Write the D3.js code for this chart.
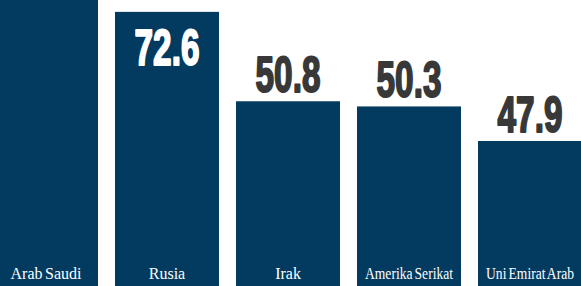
<!DOCTYPE html>
<html>
<head>
<meta charset="utf-8">
<script src="https://cdn.jsdelivr.net/npm/d3@7"></script>
<style>
  html, body { margin: 0; padding: 0; background: #ffffff; }
  svg { display: block; }
</style>
</head>
<body>
<script>
// ---- data ----
const categories = ["Arab Saudi", "Rusia", "Irak", "Amerika Serikat", "Uni Emirat Arab"];
const values = [100, 72.6, 50.8, 50.3, 47.9]; // Arab Saudi bar runs off the top of the picture
const valueLabels = ["", "72.6", "50.8", "50.3", "47.9"];

const W = 581, H = 286;
const barColor = "#033a5f";
const valueColor = "#383838";

const svg = d3.select("body").append("svg")
  .attr("width", W).attr("height", H);

const x = d3.scaleBand()
  .domain(categories)
  .range([-6, 582])
  .paddingInner(0.1405)
  .paddingOuter(0);

// infographic-style (non-linear) height scale
const offset = 45;
const yLog = d3.scaleLog().domain([1, 30]).range([202, 7.1]);
const y = v => yLog(v - offset);

const data = categories.map((c, i) => ({ c, v: values[i], label: valueLabels[i] }));

svg.selectAll("rect.bar").data(data).join("rect")
  .attr("class", "bar")
  .attr("x", d => x(d.c))
  .attr("width", x.bandwidth())
  .attr("y", d => y(d.v))
  .attr("height", d => H - y(d.v))
  .attr("fill", barColor);

// category labels inside bottom of bars (squeezed horizontally if too long)
const maxLabel = x.bandwidth() - 16;
const catG = svg.selectAll("g.cat").data(data).join("g")
  .attr("class", "cat");
catG.append("text")
  .attr("text-anchor", "middle")
  .attr("fill", "#ffffff")
  .style("font-family", "'Liberation Serif', serif")
  .style("font-size", "16px")
  .style("word-spacing", "-1.5px")
  .text(d => d.c);
catG.each(function (d) {
  const len = d3.select(this).select("text").node().getComputedTextLength();
  const sx = len > maxLabel ? maxLabel / len : 1;
  d3.select(this).attr("transform",
    `translate(${x(d.c) + x.bandwidth() / 2},279) scale(${sx},1)`);
});

// value labels (condensed heavy numerals)
const isInside = d => { const t = y(d.v); return t >= 0 && t < 50; };
const vg = svg.selectAll("g.val").data(data.filter(d => d.label)).join("g")
  .attr("class", "val")
  .attr("transform", d => {
    const top = y(d.v);
    const by = isInside(d) ? top + 53 : top - 9;
    return `translate(${x(d.c) + x.bandwidth() / 2},${by}) scale(0.68,1)`;
  });

vg.append("text")
  .attr("text-anchor", "middle")
  .attr("fill", d => isInside(d) ? "#ffffff" : valueColor)
  .attr("stroke", d => isInside(d) ? "#ffffff" : valueColor)
  .attr("stroke-width", 2)
  .attr("stroke-linejoin", "round")
  .style("font-family", "'Liberation Sans', Arial, sans-serif")
  .style("font-weight", "bold")
  .style("font-size", "49px")
  .text(d => d.label);
</script>
</body>
</html>
